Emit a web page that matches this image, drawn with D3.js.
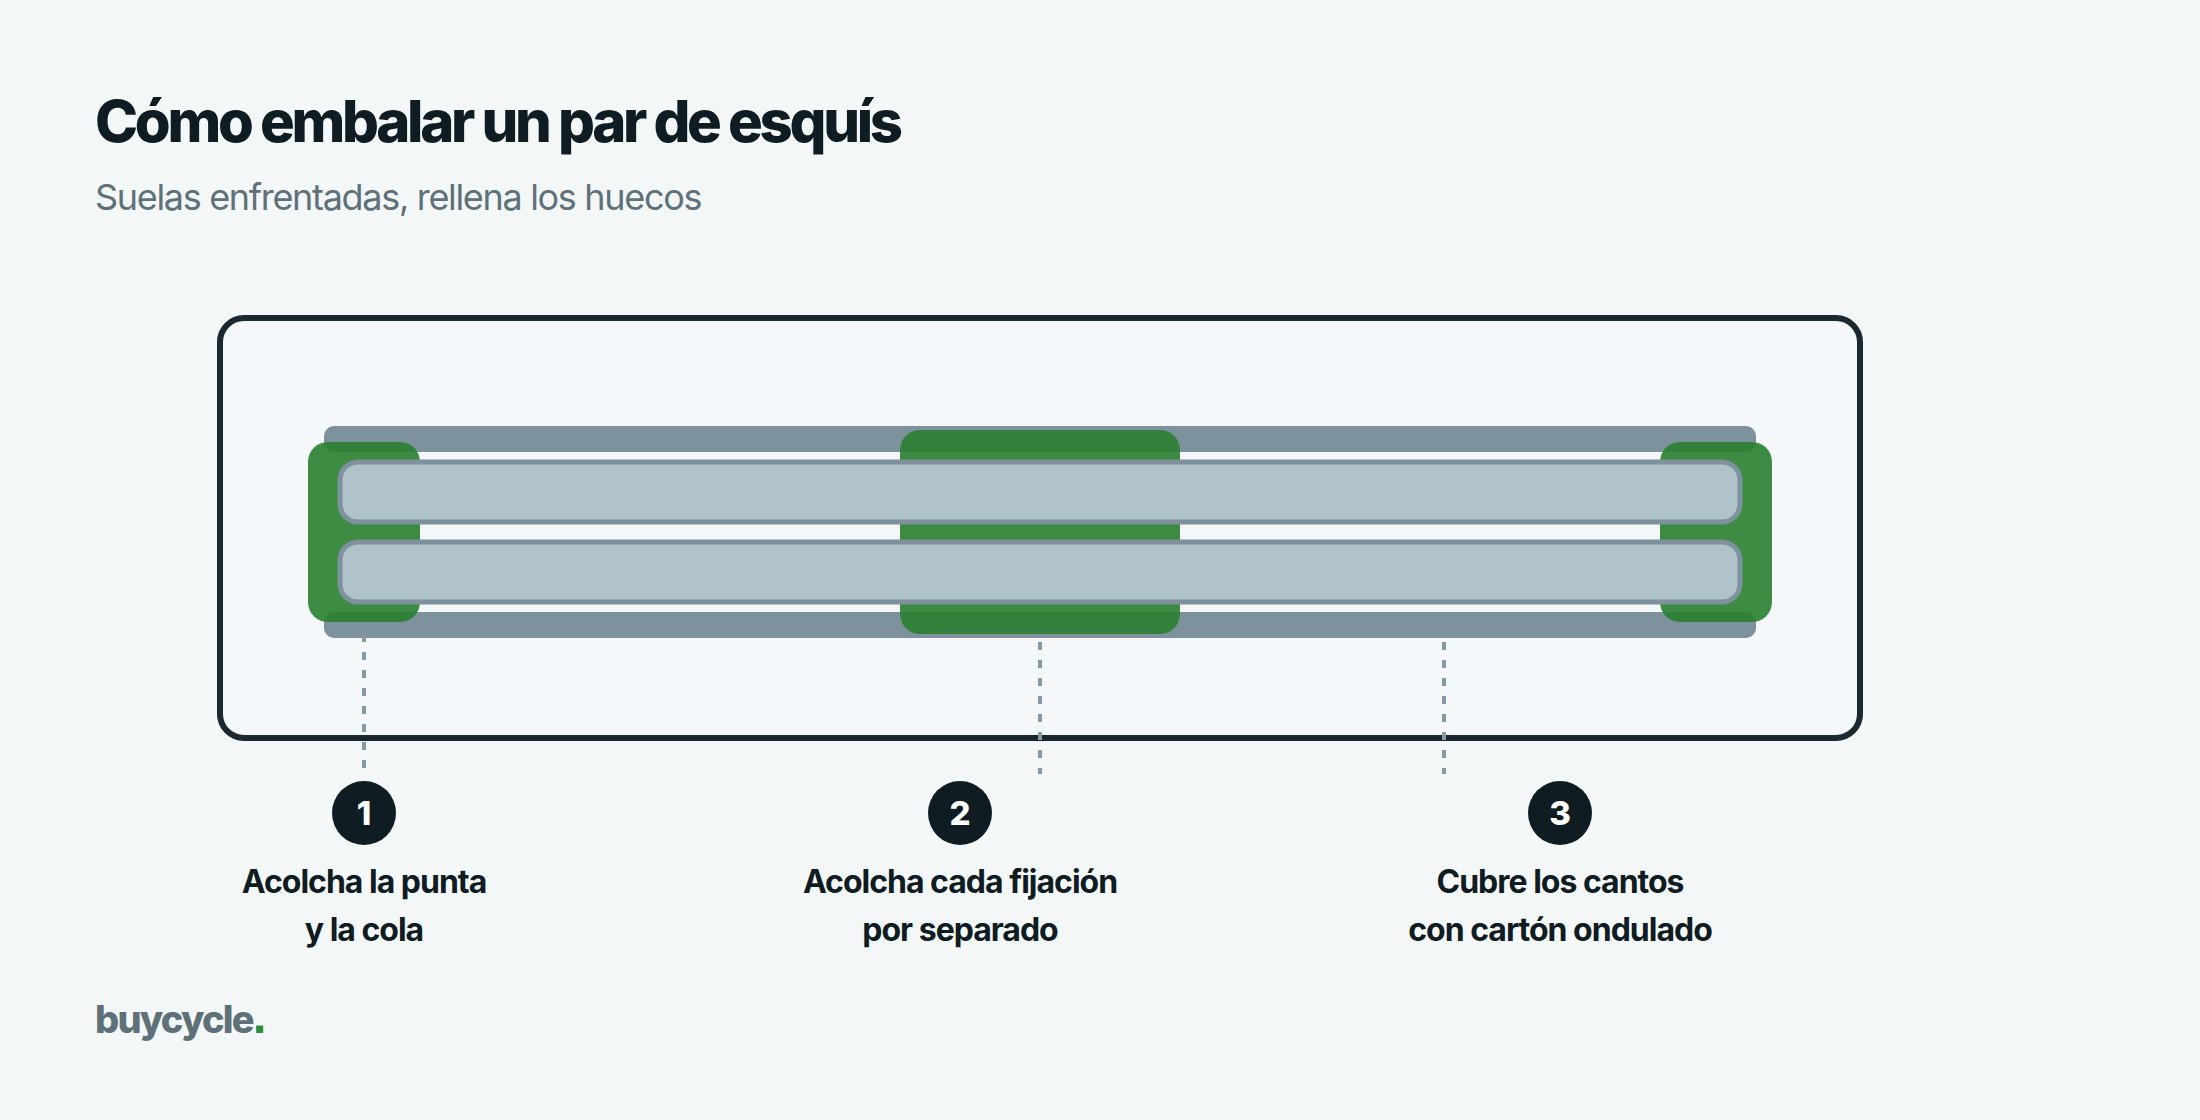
<!DOCTYPE html>
<html lang="es">
<head>
  <meta charset="UTF-8">
  <script src="https://cdn.jsdelivr.net/npm/d3@7"></script>
  <title>Cómo embalar un par de esquís</title>
  <style>
    html, body { margin: 0; background: #F4F7F8; }
    svg { display: block; }
    text { font-family: "Inter", sans-serif; }
  </style>
</head>
<body>
  <svg id="chart" width="2200" height="1120"></svg>
  <script>
  /* DATA */
  const title = "Cómo embalar un par de esquís";
  const subtitle = "Suelas enfrentadas, rellena los huecos";
  const steps = ["1", "2", "3"];
  const stepLines = [
    ["Acolcha la punta", "y la cola"],
    ["Acolcha cada fijación", "por separado"],
    ["Cubre los cantos", "con cartón ondulado"]
  ];
  // everything along the ski is in % of ski length
  const skis = ["top", "bottom"];
  const rails = ["top", "bottom"];
  const railSpan = [-1.143, 101.143];
  const padStart = [-2.286, 40, 94.286];
  const padEnd = [5.714, 60, 102.286];
  const calloutAt = [1.714, 50, 78.857];

  let svg = d3.select("#chart");

  /* SCALES */
  let x = d3.scaleLinear().domain([0, 100]).range([340, 1740]);
  let skiY = d3.scaleOrdinal().domain(skis).range([462, 542]);
  let railY = d3.scaleOrdinal().domain(rails).range([426, 612]);
  let stepX = d3.scaleOrdinal().domain(steps).range([364, 960, 1560]);

  /* HEADER */
  svg.append("text").text(title)
    .attr("x", 95).attr("y", 142)
    .attr("fill", "#0F1C22")
    .style("font-size", "58px").style("font-weight", 800).style("letter-spacing", "-3.3px");
  svg.append("text").text(subtitle)
    .attr("x", 95).attr("y", 210)
    .attr("fill", "#5F7178")
    .style("font-size", "36px").style("font-weight", 400).style("letter-spacing", "-1.32px");

  /* BOX */
  svg.append("rect")
    .attr("x", 220).attr("y", 318).attr("width", 1640).attr("height", 420).attr("rx", 24)
    .attr("fill", "#F5F8FA").attr("stroke", "#0F1C22").attr("stroke-width", 6).attr("stroke-opacity", 0.95);

  /* RAILS (cardboard) */
  svg.selectAll(".rail").data(rails).enter().append("rect")
    .attr("class", "rail")
    .attr("x", x(railSpan[0])).attr("y", d => railY(d))
    .attr("width", x(railSpan[1]) - x(railSpan[0])).attr("height", 26).attr("rx", 10)
    .attr("fill", "#7D929D");

  /* PADS */
  svg.selectAll(".pad").data(padStart).enter().append("rect")
    .attr("class", "pad")
    .attr("x", d => x(d))
    .attr("width", (d, i) => x(padEnd[i]) - x(d))
    .attr("y", (d, i) => i == 1 ? 430 : 442)
    .attr("height", (d, i) => i == 1 ? 204 : 180)
    .attr("rx", 20)
    .attr("fill", "#2A7E30").attr("opacity", 0.9);

  /* SKIS */
  svg.selectAll(".ski").data(skis).enter().append("rect")
    .attr("class", "ski")
    .attr("x", x(0)).attr("y", d => skiY(d))
    .attr("width", x(100) - x(0)).attr("height", 60).attr("rx", 18)
    .attr("fill", "#B0C3CA").attr("stroke", "#7D929C").attr("stroke-width", 5);

  /* CALLOUTS */
  svg.selectAll(".callout").data(calloutAt).enter().append("line")
    .attr("class", "callout")
    .attr("x1", d => x(d)).attr("x2", d => x(d))
    .attr("y1", (d, i) => i == 0 ? 634 : 642)
    .attr("y2", (d, i) => i == 0 ? 768 : 774)
    .attr("stroke", "#8699A5").attr("stroke-width", 4).attr("stroke-dasharray", "8 10");

  /* STEPS */
  let step = svg.selectAll(".step").data(steps).enter().append("g")
    .attr("class", "step")
    .attr("transform", d => `translate(${stepX(d)},0)`);
  step.append("circle").attr("cy", 813).attr("r", 32).attr("fill", "#0F1C22");
  step.append("text").text(d => d)
    .attr("y", 825).attr("text-anchor", "middle").attr("fill", "#fff")
    .style("font-size", "33px").style("font-weight", 800);
  step.append("text").text((d, i) => stepLines[i][0])
    .attr("y", 893).attr("text-anchor", "middle").attr("fill", "#0F1C22")
    .style("font-size", "32px").style("font-weight", 650).style("letter-spacing", "-1px");
  step.append("text").text((d, i) => stepLines[i][1])
    .attr("y", 941).attr("text-anchor", "middle").attr("fill", "#0F1C22")
    .style("font-size", "32px").style("font-weight", 650).style("letter-spacing", "-1px");

  /* BRAND */
  let brand = svg.append("text")
    .attr("x", 95).attr("y", 1033)
    .attr("fill", "#5F7178")
    .style("font-size", "38px").style("font-weight", 800).style("letter-spacing", "-1.8px");
  brand.append("tspan").text("buycycle");
  brand.append("tspan").text(".")
    .attr("fill", "#2E8B3A").style("font-family", "Liberation Sans").style("font-weight", 700).style("font-size", "50px");
  </script>
</body>
</html>
